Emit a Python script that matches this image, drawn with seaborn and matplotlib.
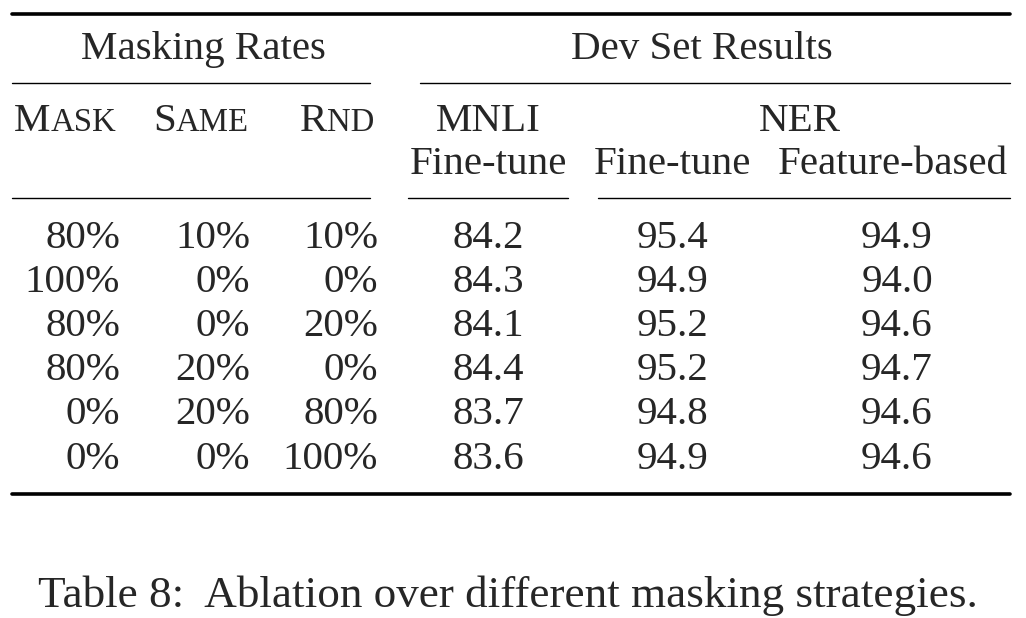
import matplotlib
matplotlib.use("Agg")
import matplotlib.pyplot as plt
import seaborn as sns

sns.set_theme(style="white")
plt.rcParams['font.family'] = ['Liberation Serif', 'DejaVu Serif']

mask = ["80%", "100%", "80%", "80%", "0%", "0%"]
same = ["10%", "0%", "0%", "20%", "20%", "0%"]
rnd = ["10%", "0%", "20%", "0%", "80%", "100%"]
mnli_ft = [84.2, 84.3, 84.1, 84.4, 83.7, 83.6]
ner_ft = [95.4, 94.9, 95.2, 95.2, 94.8, 94.9]
ner_fb = [94.9, 94.0, 94.6, 94.7, 94.6, 94.6]
caption = "Table 8:  Ablation over different masking strategies."

fig = plt.figure(figsize=(10.26, 6.18), dpi=100)
ax = fig.add_axes([0, 0, 1, 1])
ax.set_xlim(0, 1026)
ax.set_ylim(618, 0)
ax.axis("off")

fs = 29.5
# rules
ax.plot([12, 1010], [14, 14], color="black", lw=2.6)
ax.plot([12, 1010], [494, 494], color="black", lw=2.6)
for x0, x1 in [(12, 370), (420, 1010)]:
    ax.plot([x0, x1], [83, 83], color="black", lw=1.0)
for x0, x1 in [(12, 370), (408, 568), (598, 1010)]:
    ax.plot([x0, x1], [198, 198], color="black", lw=1.0)

ax.text(203, 59, "Masking Rates", fontsize=fs, ha="center", va="baseline")
ax.text(702, 59, "Dev Set Results", fontsize=fs, ha="center", va="baseline")

# small caps headers
fig.canvas.draw()
r = fig.canvas.get_renderer()
def small_caps(x, y, big, small):
    t = ax.text(x, y, big, fontsize=fs, ha="left", va="baseline")
    w = t.get_window_extent(r).width
    ax.text(x + w, y, small.upper(), fontsize=fs * 0.8, ha="left", va="baseline")
small_caps(14, 131, "M", "ask")
small_caps(153, 131, "S", "ame")
small_caps(300, 131, "R", "nd")

ax.text(488, 131, "MNLI", fontsize=fs, ha="center", va="baseline")
ax.text(800, 131, "NER", fontsize=fs, ha="center", va="baseline")
for x, s in [(488, "Fine-tune"), (672, "Fine-tune"), (893, "Feature-based")]:
    ax.text(x, 174, s, fontsize=fs, ha="center", va="baseline")

rows_y = [248, 292, 336, 380, 424, 469]
for i, y in enumerate(rows_y):
    ax.text(120, y, mask[i], fontsize=fs, ha="right", va="baseline")
    ax.text(250, y, same[i], fontsize=fs, ha="right", va="baseline")
    ax.text(378, y, rnd[i], fontsize=fs, ha="right", va="baseline")
    ax.text(488, y, f"{mnli_ft[i]:.1f}", fontsize=fs, ha="center", va="baseline")
    ax.text(672, y, f"{ner_ft[i]:.1f}", fontsize=fs, ha="center", va="baseline")
    ax.text(897, y, f"{ner_fb[i]:.1f}", fontsize=fs, ha="center", va="baseline")

ax.text(38, 607, caption, fontsize=32.5, ha="left", va="baseline")

fig.savefig("out.png", dpi=100, facecolor="white")
